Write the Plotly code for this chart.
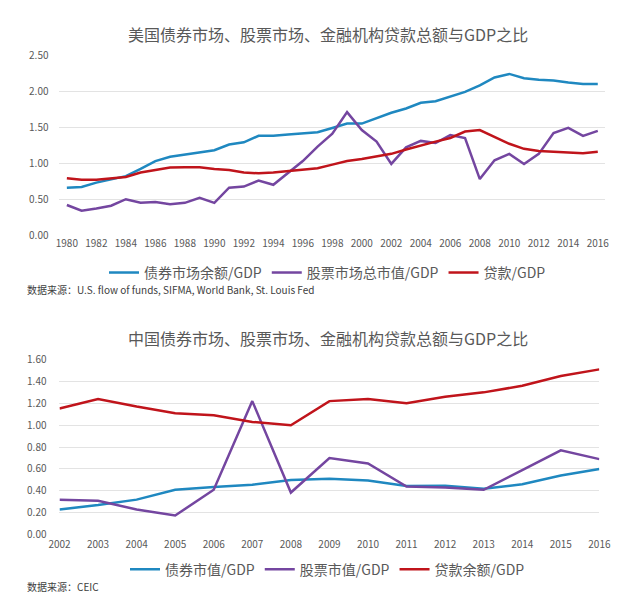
import plotly.graph_objects as go

# ---------------- US data ----------------
us_years = list(range(1980, 2017))
us_bond = [0.67, 0.68, 0.74, 0.79, 0.83, 0.93, 1.04, 1.10, 1.13, 1.16, 1.19, 1.27, 1.30,
           1.39, 1.39, 1.41, 1.42, 1.44, 1.50, 1.56, 1.56, 1.64, 1.71, 1.77, 1.85,
           1.87, 1.94, 2.00, 2.09, 2.20, 2.25, 2.19, 2.17, 2.16, 2.13, 2.11, 2.11]
us_stock = [0.43, 0.35, 0.38, 0.42, 0.51, 0.46, 0.47, 0.44, 0.46, 0.53, 0.46, 0.67, 0.685,
            0.77, 0.71, 0.88, 1.04, 1.24, 1.42, 1.72, 1.47, 1.31, 1.00, 1.23, 1.32,
            1.29, 1.40, 1.36, 0.79, 1.05, 1.14, 1.00, 1.14, 1.43, 1.50, 1.39, 1.46]
us_loan = [0.80, 0.78, 0.78, 0.80, 0.82, 0.88, 0.92, 0.95, 0.955, 0.955, 0.93, 0.915, 0.88,
           0.87, 0.88, 0.90, 0.92, 0.94, 0.99, 1.04, 1.07, 1.10, 1.14, 1.20, 1.26,
           1.31, 1.36, 1.45, 1.47, 1.38, 1.28, 1.21, 1.18, 1.17, 1.16, 1.15, 1.17]
us_names = ["债券市场余额/GDP", "股票市场总市值/GDP", "贷款/GDP"]
us_xticks = list(range(1980, 2017, 2))
us_yticks = [0, 0.5, 1.0, 1.5, 2.0, 2.5]

# ---------------- China data ----------------
cn_years = list(range(2002, 2017))
cn_bond = [0.23, 0.27, 0.32, 0.41, 0.435, 0.456, 0.50, 0.51, 0.495, 0.445, 0.447, 0.42, 0.46, 0.54, 0.60]
cn_stock = [0.32, 0.31, 0.23, 0.175, 0.41, 1.22, 0.385, 0.70, 0.65, 0.44, 0.43, 0.41, 0.59, 0.77, 0.69]
cn_loan = [1.153, 1.24, 1.17, 1.11, 1.09, 1.03, 1.00, 1.22, 1.24, 1.20, 1.26, 1.30, 1.36, 1.45, 1.51]
cn_names = ["债券市值/GDP", "股票市值/GDP", "贷款余额/GDP"]
cn_yticks = [0, 0.2, 0.4, 0.6, 0.8, 1.0, 1.2, 1.4, 1.6]

colors = ["#1f88c0", "#7446a0", "#c0141b"]
FONT = "Noto Sans CJK SC, Liberation Sans, sans-serif"
GRAY = "#595959"

W, H = 640, 594
def py(pix):  # pixel from top -> paper y
    return 1 - pix / H
def px(pix):
    return pix / W

fig = go.Figure()
for name, vals, c in zip(us_names, [us_bond, us_stock, us_loan], colors):
    fig.add_trace(go.Scatter(x=us_years, y=vals, name=name, mode="lines",
                             line=dict(color=c, width=2.5), xaxis="x", yaxis="y",
                             legend="legend"))
for name, vals, c in zip(cn_names, [cn_bond, cn_stock, cn_loan], colors):
    fig.add_trace(go.Scatter(x=cn_years, y=vals, name=name, mode="lines",
                             line=dict(color=c, width=2.5), xaxis="x2", yaxis="y2",
                             legend="legend2"))

axis_common = dict(showline=False, zeroline=False, ticks="",
                   tickfont=dict(family=FONT, size=10, color=GRAY))

fig.update_layout(
    width=W, height=H,
    margin=dict(l=0, r=0, t=0, b=0),
    paper_bgcolor="white", plot_bgcolor="white",
    font=dict(family=FONT, color=GRAY),
    xaxis=dict(domain=[px(42), px(608)], range=[1979.5, 2016.5], tickvals=us_xticks,
               showgrid=False, anchor="y", **axis_common),
    yaxis=dict(domain=[py(225), py(40)], range=[0, 2.5], tickvals=us_yticks,
               tickformat=".2f", showgrid=True, gridcolor="#e3e3e3", gridwidth=1,
               anchor="x", ticklabelstandoff=10, **axis_common),
    xaxis2=dict(domain=[px(42), px(602)], range=[2002, 2016], tickvals=cn_years,
                showgrid=False, anchor="y2", ticklabelstandoff=2, **axis_common),
    yaxis2=dict(domain=[py(532), py(352)], range=[0, 1.6], tickvals=cn_yticks,
                tickformat=".2f", showgrid=True, gridcolor="#e3e3e3", gridwidth=1,
                anchor="x2", ticklabelstandoff=12, **axis_common),
    legend=dict(orientation="h", x=0.5, xanchor="center", y=py(263), yanchor="middle",
                font=dict(family=FONT, size=14, color=GRAY), bgcolor="rgba(0,0,0,0)",
                itemwidth=30),
    legend2=dict(orientation="h", x=0.5, xanchor="center", y=py(568), yanchor="middle",
                 font=dict(family=FONT, size=14, color=GRAY), bgcolor="rgba(0,0,0,0)",
                 itemwidth=30),
    showlegend=True,
    annotations=[
        dict(text="美国债券市场、股票市场、金融机构贷款总额与GDP之比", x=0.5, y=py(17),
             xref="paper", yref="paper", showarrow=False, xanchor="center", yanchor="middle",
             font=dict(family=FONT, size=16, color=GRAY)),
        dict(text="数据来源：U.S. flow of funds, SIFMA, World Bank, St. Louis Fed",
             x=px(6), y=py(280), xref="paper", yref="paper", showarrow=False,
             xanchor="left", yanchor="middle", font=dict(family=FONT, size=10, color="#404040")),
        dict(text="中国债券市场、股票市场、金融机构贷款总额与GDP之比", x=0.5, y=py(330),
             xref="paper", yref="paper", showarrow=False, xanchor="center", yanchor="middle",
             font=dict(family=FONT, size=16, color=GRAY)),
        dict(text="数据来源：CEIC", x=px(6), y=py(585), xref="paper", yref="paper",
             showarrow=False, xanchor="left", yanchor="middle",
             font=dict(family=FONT, size=10, color="#404040")),
    ],
)

fig.write_html("out.html")
